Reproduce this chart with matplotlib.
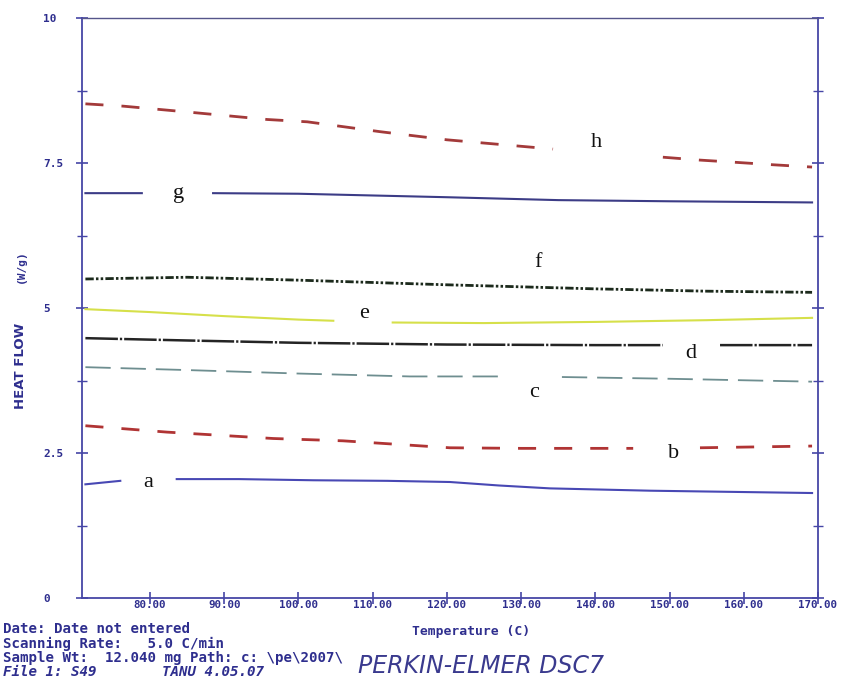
import numpy as np
import matplotlib
matplotlib.use("Agg")
import matplotlib.pyplot as plt

nan = np.nan

# ---- data (temperature in C, heat flow in W/g); NaN marks gaps where labels sit
a_T = [71.3, 76.0, 80.0, 83.6, 92.0, 102.0, 112.0, 120.4, 127.0, 133.9, 147.4, 169.2]
a_v = [1.96, 2.02, nan, 2.05, 2.05, 2.03, 2.02, 2.00, 1.94, 1.89, 1.85, 1.81]

b_T = [71.3, 82.3, 96.6, 106.0, 120.4, 130.0, 145.1, 149.0, 154.1, 169.2]
b_v = [2.97, 2.86, 2.75, 2.71, 2.59, 2.58, 2.58, nan, 2.59, 2.62]

c_T = [71.3, 85.0, 100.0, 115.0, 128.1, 132.0, 135.5, 150.0, 169.2]
c_v = [3.98, 3.93, 3.87, 3.82, 3.82, nan, 3.81, 3.78, 3.73]

d_T = [71.3, 85.0, 100.0, 120.0, 140.0, 149.1, 153.0, 156.8, 169.2]
d_v = [4.48, 4.44, 4.40, 4.37, 4.36, 4.36, nan, 4.36, 4.36]

e_T = [71.3, 80.0, 90.0, 100.0, 104.7, 108.0, 112.7, 125.0, 140.0, 155.0, 169.2]
e_v = [4.98, 4.93, 4.86, 4.80, 4.78, nan, 4.75, 4.74, 4.76, 4.79, 4.83]

f_T = [71.3, 85.0, 100.0, 120.0, 140.0, 155.0, 169.2]
f_v = [5.50, 5.53, 5.48, 5.40, 5.33, 5.29, 5.27]

g_T = [71.3, 78.9, 83.0, 88.5, 100.0, 120.0, 135.0, 150.0, 169.2]
g_v = [6.98, 6.98, nan, 6.98, 6.97, 6.91, 6.86, 6.84, 6.82]

h_T = [71.3, 76.4, 85.0, 95.8, 101.2, 111.0, 120.0, 134.3, 141.0, 149.1, 154.1, 159.1, 163.9, 169.2]
h_v = [8.52, 8.48, 8.38, 8.25, 8.21, 8.04, 7.90, 7.74, nan, 7.60, 7.55, 7.51, 7.47, 7.43]

curve_labels = ["a", "b", "c", "d", "e", "f", "g", "h"]
label_T = [79.7, 150.6, 131.7, 152.9, 108.8, 132.3, 83.8, 140.2]
label_v = [2.00, 2.50, 3.55, 4.21, 4.90, 5.78, 6.98, 7.86]

x_ticks = [80, 90, 100, 110, 120, 130, 140, 150, 160, 170]
x_ticklabels = ["80.00", "90.00", "100.00", "110.00", "120.00", "130.00",
                "140.00", "150.00", "160.00", "170.00"]
y_ticks = [0, 2.5, 5, 7.5, 10]
y_ticklabels = ["0", "2.5", "5", "7.5", "10"]

# ---- figure
W, H = 843, 693
fig = plt.figure(figsize=(W / 100, H / 100), dpi=100)
ax = fig.add_axes([82 / W, 1 - 598 / H, (818 - 82) / W, (598 - 18) / H])

ink = "#2e2e8e"
axis_col = "#4646a6"

# curves
ax.plot(h_T, h_v, color="#a33a3a", lw=2.0, dashes=(6.5, 6.5))
ax.plot(g_T, g_v, color="#3c3c86", lw=1.5)
ax.plot(f_T, f_v, color="#1c2a1c", lw=2.0, dashes=(3.0, 0.8, 0.9, 0.8, 0.9, 0.8))
ax.plot(e_T, e_v, color="#d6e04a", lw=1.5)
ax.plot(d_T, d_v, color="#242424", lw=1.8, dashes=(13.0, 0.8, 0.9, 0.8))
ax.plot(c_T, c_v, color="#6e8e90", lw=1.3, dashes=(14.0, 5.5))
ax.plot(b_T, b_v, color="#b03434", lw=2.0, dashes=(6.5, 6.5))
ax.plot(a_T, a_v, color="#4848b4", lw=1.5)

for lab, tx, ty in zip(curve_labels, label_T, label_v):
    ax.text(tx, ty, lab, fontsize=16, family="Liberation Serif",
            color="#111111", ha="center", va="center")

ax.set_xlim(70.84, 170)
ax.set_ylim(0, 10)

ax.set_xticks(x_ticks)
ax.set_xticklabels(x_ticklabels)
ax.set_yticks(y_ticks)
ax.set_yticklabels(y_ticklabels)
ax.set_yticks(np.arange(1.25, 10, 2.5), minor=True)

for sp in ["left", "bottom", "right"]:
    ax.spines[sp].set_color(axis_col)
    ax.spines[sp].set_linewidth(1.3)
ax.spines["top"].set_color("#55558a")
ax.spines["top"].set_linewidth(1.0)

ax.tick_params(axis="x", which="major", direction="inout", length=9, width=1.2,
               color=axis_col, labelcolor=ink, labelsize=7.8, pad=-3)
ax.tick_params(axis="y", which="major", direction="inout", length=8, width=1.2,
               color=axis_col, labelcolor=ink, labelsize=8, pad=24,
               right=True)
ax.tick_params(axis="y", which="minor", direction="inout", length=7, width=1.0,
               color=axis_col, right=True)
for lbl in ax.get_xticklabels() + ax.get_yticklabels():
    lbl.set_family("DejaVu Sans Mono")
    lbl.set_fontweight("bold")
for lbl in ax.get_yticklabels():
    lbl.set_horizontalalignment("left")

# axis titles
fig.text(21 / W, 1 - 366 / H, "HEAT FLOW", rotation=90, ha="center", va="center",
         color=ink, fontsize=9.5, family="DejaVu Sans", fontweight="bold")
fig.text(21 / W, 1 - 266 / H, "(W/g)", rotation=90, ha="center", va="center",
         color=ink, fontsize=8, family="DejaVu Sans Mono", fontweight="bold")
fig.text(471 / W, 1 - 631 / H, "Temperature (C)", ha="center", va="center",
         color=ink, fontsize=9.4, family="DejaVu Sans Mono", fontweight="bold")

# footer info
mono = dict(family="DejaVu Sans Mono", color=ink, fontsize=10.2, fontweight="bold",
            ha="left", va="center")
fig.text(3 / W, 1 - 629 / H, "Date: Date not entered", **mono)
fig.text(3 / W, 1 - 644 / H, "Scanning Rate:   5.0 C/min", **mono)
fig.text(3 / W, 1 - 658 / H, "Sample Wt:  12.040 mg Path: c: \\pe\\2007\\", **mono)
fig.text(3 / W, 1 - 672 / H, "File 1: S49", style="italic", **mono)
fig.text(162 / W, 1 - 672 / H, "TANU 4.05.07", style="italic", **mono)
fig.text(358 / W, 1 - 666 / H, "PERKIN-ELMER DSC7", family="DejaVu Sans",
         style="italic", color="#3a3a8e", fontsize=17, fontweight="light",
         ha="left", va="center")

fig.savefig("out.png", dpi=100, facecolor="white")
